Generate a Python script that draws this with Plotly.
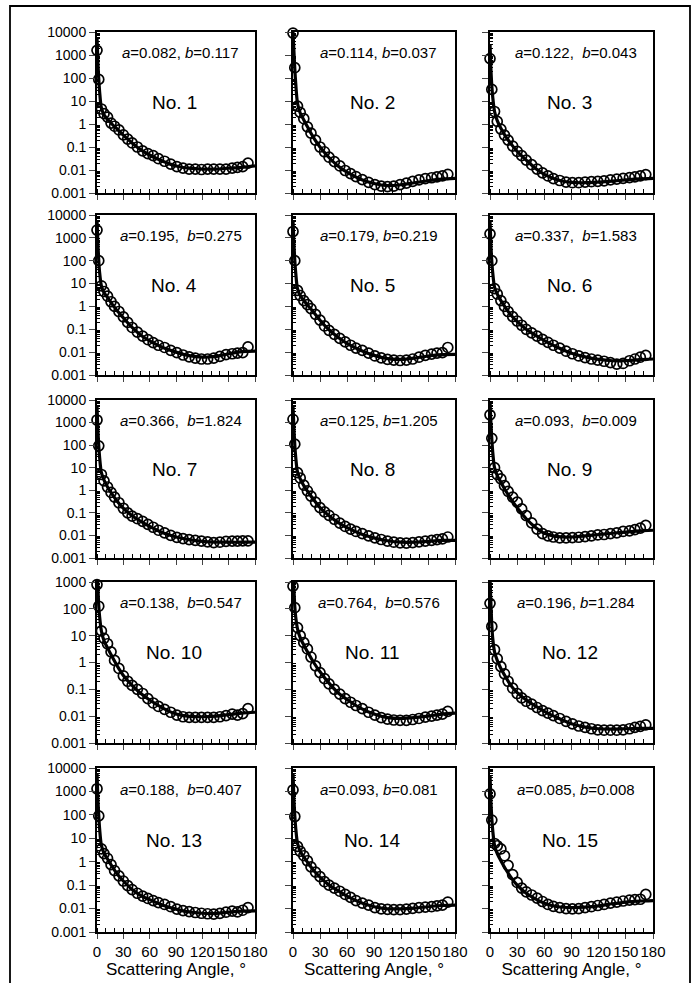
import plotly.graph_objects as go

# ---------------- data ----------------
DATA_ANGLES = [0, 2, 5, 8, 12, 16, 20, 25, 30, 35, 40, 46, 52, 58, 64, 70, 77, 84, 91, 98,
               105, 112, 119, 126, 133, 140, 147, 154, 160, 166, 172]
FIT_ANGLES = [0, 1, 2, 3, 5, 8, 12, 17, 23, 30, 40, 50, 60, 75, 90, 105, 120, 135, 150, 165, 180]

PANEL_NAMES = ["No. 1", "No. 2", "No. 3", "No. 4", "No. 5", "No. 6", "No. 7", "No. 8",
               "No. 9", "No. 10", "No. 11", "No. 12", "No. 13", "No. 14", "No. 15"]
A_VALUES = ["0.082", "0.114", "0.122", "0.195", "0.179", "0.337", "0.366", "0.125",
            "0.093", "0.138", "0.764", "0.196", "0.188", "0.093", "0.085"]
B_VALUES = ["0.117", "0.037", "0.043", "0.275", "0.219", "1.583", "1.824", "1.205",
            "0.009", "0.547", "0.576", "1.284", "0.407", "0.081", "0.008"]
SEPARATORS = [", ", ", ", ",  ", ",  ", ", ", ",  ", ",  ", ", ",
              ",  ", ",  ", ",  ", ", ", ",  ", ", ", ", "]

obs1 = [1600, 87, 4.5, 2.8, 2.0, 1.1, 0.8, 0.55, 0.34, 0.22, 0.15, 0.1, 0.068, 0.052, 0.042, 0.031,
        0.024, 0.018, 0.014, 0.012, 0.011, 0.011, 0.0105, 0.011, 0.011, 0.011, 0.011, 0.012, 0.013, 0.014, 0.02]
fit1 = [6000, 500, 90, 25, 5, 2.5, 1.6, 1.0, 0.6, 0.33, 0.15, 0.075, 0.045, 0.024, 0.015, 0.012,
        0.011, 0.011, 0.012, 0.013, 0.015]

obs2 = [9000, 280, 6, 3.2, 1.7, 0.75, 0.4, 0.2, 0.1, 0.062, 0.036, 0.023, 0.015, 0.0095, 0.007, 0.0052,
        0.0038, 0.0029, 0.0023, 0.002, 0.0019, 0.002, 0.0023, 0.0027, 0.0032, 0.0037, 0.0042, 0.0046, 0.005, 0.0055, 0.0065]
fit2 = [10000, 1500, 250, 60, 8, 3, 1.5, 0.65, 0.25, 0.1, 0.035, 0.015, 0.008, 0.004, 0.0026, 0.0021,
        0.0023, 0.0028, 0.0034, 0.004, 0.0043]

obs3 = [700, 32, 3.5, 1.3, 0.6, 0.33, 0.2, 0.11, 0.065, 0.042, 0.027, 0.017, 0.011, 0.0075, 0.0055, 0.0042,
        0.0035, 0.003, 0.0028, 0.0028, 0.003, 0.0031, 0.0032, 0.0034, 0.0037, 0.004, 0.0043, 0.0047, 0.005, 0.0055, 0.0063]
fit3 = [3000, 250, 45, 15, 3.5, 1.4, 0.65, 0.3, 0.14, 0.065, 0.027, 0.012, 0.0065, 0.0037, 0.0029, 0.0028,
        0.003, 0.0033, 0.0037, 0.0041, 0.0043]

obs4 = [2200, 100, 8, 4.5, 2.8, 1.6, 1.0, 0.6, 0.35, 0.2, 0.12, 0.075, 0.05, 0.035, 0.026, 0.02,
        0.016, 0.012, 0.0095, 0.0075, 0.0062, 0.0055, 0.005, 0.005, 0.0055, 0.0065, 0.0078, 0.0085, 0.009, 0.0095, 0.017]
fit4 = [6000, 600, 100, 30, 8, 4, 2.5, 1.3, 0.65, 0.32, 0.12, 0.055, 0.031, 0.016, 0.01, 0.007,
        0.006, 0.0065, 0.0085, 0.0105, 0.011]

obs5 = [1900, 100, 5, 3, 1.8, 1.2, 0.8, 0.45, 0.25, 0.14, 0.09, 0.06, 0.04, 0.028, 0.02, 0.015,
        0.012, 0.009, 0.0068, 0.0056, 0.0048, 0.0045, 0.0043, 0.0045, 0.005, 0.006, 0.0072, 0.0082, 0.009, 0.0095, 0.016]
fit5 = [6000, 600, 100, 30, 6, 3, 1.8, 1.05, 0.55, 0.25, 0.095, 0.045, 0.024, 0.012, 0.0072, 0.0052,
        0.0048, 0.0055, 0.0068, 0.0078, 0.008]

obs6 = [1500, 100, 6, 3.5, 1.8, 1.0, 0.6, 0.36, 0.23, 0.15, 0.1, 0.07, 0.05, 0.036, 0.027, 0.02,
        0.015, 0.011, 0.0085, 0.0068, 0.0058, 0.005, 0.0045, 0.004, 0.0035, 0.003, 0.0032, 0.0042, 0.005, 0.006, 0.0072]
fit6 = [5000, 500, 90, 30, 7, 3.5, 1.8, 0.9, 0.42, 0.22, 0.1, 0.055, 0.032, 0.016, 0.009, 0.0062,
        0.0048, 0.0042, 0.0042, 0.0047, 0.005]

obs7 = [1300, 93, 5, 2.6, 1.4, 0.8, 0.5, 0.28, 0.16, 0.1, 0.072, 0.055, 0.042, 0.031, 0.023, 0.017,
        0.013, 0.01, 0.0082, 0.0072, 0.0065, 0.006, 0.0056, 0.0052, 0.0048, 0.005, 0.0055, 0.0056, 0.0056, 0.0057, 0.0057]
fit7 = [5000, 500, 90, 28, 6, 2.8, 1.4, 0.7, 0.33, 0.16, 0.075, 0.042, 0.025, 0.013, 0.0085, 0.0065,
        0.0055, 0.0051, 0.005, 0.005, 0.005]

obs8 = [1400, 110, 6, 3.5, 1.7, 0.95, 0.55, 0.3, 0.17, 0.11, 0.078, 0.052, 0.035, 0.025, 0.019, 0.015,
        0.012, 0.0095, 0.0078, 0.0066, 0.0056, 0.005, 0.0047, 0.0046, 0.0048, 0.0052, 0.0056, 0.006, 0.0065, 0.007, 0.0085]
fit8 = [5000, 600, 100, 30, 6.5, 3.2, 1.6, 0.82, 0.38, 0.17, 0.075, 0.038, 0.022, 0.012, 0.0078, 0.0058,
        0.005, 0.005, 0.0055, 0.006, 0.006]

obs9 = [2200, 200, 10, 5, 3.2, 1.6, 0.9, 0.5, 0.3, 0.15, 0.075, 0.036, 0.019, 0.012, 0.0095, 0.0085,
        0.0078, 0.0078, 0.008, 0.0083, 0.0088, 0.0095, 0.0105, 0.011, 0.012, 0.013, 0.015, 0.016, 0.018, 0.021, 0.028]
fit9 = [8000, 1000, 180, 50, 10, 4.5, 2.3, 1.0, 0.42, 0.17, 0.055, 0.023, 0.0125, 0.0088, 0.0085, 0.0095,
        0.011, 0.0125, 0.014, 0.016, 0.017]

obs10 = [800, 125, 15, 8, 5, 2.5, 1.2, 0.6, 0.32, 0.2, 0.14, 0.1, 0.07, 0.045, 0.031, 0.023,
         0.018, 0.014, 0.011, 0.0095, 0.009, 0.009, 0.009, 0.009, 0.009, 0.0095, 0.0105, 0.012, 0.011, 0.0125, 0.019]
fit10 = [5000, 700, 130, 50, 15, 6.5, 3.5, 1.7, 0.75, 0.33, 0.14, 0.07, 0.04, 0.02, 0.012, 0.0098,
         0.0095, 0.01, 0.0115, 0.013, 0.014]

obs11 = [700, 110, 20, 10, 5.5, 3.2, 1.6, 0.75, 0.42, 0.25, 0.16, 0.1, 0.066, 0.045, 0.033, 0.025,
         0.019, 0.014, 0.011, 0.0088, 0.0078, 0.0072, 0.007, 0.007, 0.0075, 0.0082, 0.0092, 0.01, 0.011, 0.012, 0.015]
fit11 = [3000, 600, 120, 50, 18, 8.5, 4.5, 2.2, 1.0, 0.45, 0.17, 0.075, 0.042, 0.02, 0.012, 0.0088,
         0.0082, 0.0088, 0.01, 0.012, 0.013]

obs12 = [160, 22, 3, 1.4, 0.7, 0.38, 0.2, 0.11, 0.07, 0.048, 0.036, 0.028, 0.021, 0.016, 0.013, 0.0105,
         0.0082, 0.0064, 0.0052, 0.0043, 0.0038, 0.0034, 0.0031, 0.003, 0.003, 0.003, 0.0031, 0.0034, 0.0038, 0.0042, 0.0047]
fit12 = [1500, 150, 25, 8, 2.5, 1.2, 0.6, 0.3, 0.14, 0.075, 0.04, 0.024, 0.015, 0.0085, 0.0052, 0.0039,
         0.0034, 0.0033, 0.0034, 0.0035, 0.0035]

obs13 = [1300, 90, 3.5, 2.2, 1.4, 0.75, 0.42, 0.25, 0.15, 0.095, 0.065, 0.045, 0.034, 0.027, 0.022, 0.018,
         0.015, 0.012, 0.0095, 0.0082, 0.0074, 0.0068, 0.0063, 0.006, 0.0058, 0.0062, 0.007, 0.0078, 0.0072, 0.0085, 0.011]
fit13 = [6000, 500, 90, 25, 5, 2.3, 1.3, 0.65, 0.3, 0.15, 0.065, 0.036, 0.024, 0.014, 0.0095, 0.0072,
         0.0063, 0.0062, 0.007, 0.0078, 0.008]

obs14 = [1150, 85, 4.5, 2.8, 1.8, 1.1, 0.6, 0.36, 0.23, 0.14, 0.1, 0.075, 0.055, 0.04, 0.03, 0.022,
         0.017, 0.014, 0.011, 0.0098, 0.0093, 0.009, 0.009, 0.0095, 0.0102, 0.011, 0.0115, 0.012, 0.013, 0.014, 0.019]
fit14 = [6000, 500, 90, 28, 6, 2.8, 1.6, 0.85, 0.42, 0.22, 0.1, 0.058, 0.034, 0.018, 0.012, 0.0098,
         0.0098, 0.0105, 0.012, 0.0135, 0.014]

obs15 = [780, 60, 6, 4.8, 3.5, 1.8, 0.7, 0.28, 0.13, 0.075, 0.052, 0.038, 0.028, 0.02, 0.015, 0.0125,
         0.011, 0.01, 0.0098, 0.01, 0.011, 0.012, 0.0135, 0.015, 0.017, 0.019, 0.021, 0.023, 0.024, 0.025, 0.04]
fit15 = [5000, 400, 70, 22, 5, 2.2, 1.1, 0.5, 0.22, 0.1, 0.045, 0.026, 0.017, 0.012, 0.011, 0.0115,
         0.013, 0.016, 0.019, 0.021, 0.022]

OBS = [obs1, obs2, obs3, obs4, obs5, obs6, obs7, obs8, obs9, obs10, obs11, obs12, obs13, obs14, obs15]
FITS = [fit1, fit2, fit3, fit4, fit5, fit6, fit7, fit8, fit9, fit10, fit11, fit12, fit13, fit14, fit15]

X_TICKS = [0, 30, 60, 90, 120, 150, 180]
Y_TICKS = [0.001, 0.01, 0.1, 1, 10, 100, 1000, 10000]
Y_TICK_TEXT = ["0.001", "0.01", "0.1", "1", "10", "100", "1000", "10000"]
X_TITLE = "Scattering Angle, °"

# ---------------- layout geometry (pixels) ----------------
W, H = 693, 983
COL_X = [(97, 255), (293, 455), (490, 653)]
ROW_Y = [(32, 193), (215, 375), (400, 558), (582, 743), (768, 932)]
ROW_RANGES = [(-3, 4), (-3, 4), (-3, 4), (-3, 3), (-3, 4)]

FONT = "Liberation Sans, Arial, Helvetica, sans-serif"

minor_vals = [m * 10 ** e for e in range(-3, 4) for m in range(2, 10)]

fig = go.Figure()
layout = {}
annotations = []

for i in range(15):
    r, c = divmod(i, 3)
    k = "" if i == 0 else str(i + 1)
    xa, ya = "x" + k, "y" + k
    x0, x1 = COL_X[c]
    yt, yb = ROW_Y[r]

    fig.add_trace(go.Scatter(
        x=FIT_ANGLES, y=FITS[i], mode="lines", xaxis=xa, yaxis=ya,
        line=dict(color="black", width=3.2, shape="spline", smoothing=0.8),
        showlegend=False, hoverinfo="skip"))
    fig.add_trace(go.Scatter(
        x=DATA_ANGLES, y=OBS[i], mode="markers", xaxis=xa, yaxis=ya,
        marker=dict(symbol="circle-open", size=10, color="black", line=dict(width=1.7, color="black")),
        cliponaxis=False, showlegend=False))

    bottom = (r == 4)
    layout["xaxis" + k] = dict(
        domain=[x0 / W, x1 / W], anchor=ya, range=[0, 180], automargin=False,
        tickmode="array", tickvals=X_TICKS, ticks="outside", ticklen=5, tickwidth=1.3,
        tickangle=0,
        minor=dict(ticks="inside", ticklen=4, dtick=10, tick0=0, tickwidth=1.1, tickcolor="black"),
        showticklabels=bottom, tickfont=dict(family=FONT, size=15, color="black"),
        showline=True, linecolor="black", linewidth=1.5, mirror=True,
        showgrid=False, zeroline=False,
        title=dict(text=X_TITLE, font=dict(family=FONT, size=17, color="black"), standoff=4) if bottom else None,
    )
    lo, hi = ROW_RANGES[r]
    tv = [v for v in Y_TICKS if 10 ** lo <= v <= 10 ** hi]
    tt = [Y_TICK_TEXT[j] for j, v in enumerate(Y_TICKS) if 10 ** lo <= v <= 10 ** hi]
    layout["yaxis" + k] = dict(
        domain=[1 - yb / H, 1 - yt / H], anchor=xa, type="log", range=[lo, hi], automargin=False,
        tickmode="array", tickvals=tv, ticktext=tt, ticks="outside", ticklen=6, tickwidth=1.3,
        minor=dict(ticks="inside", ticklen=3, tickmode="array",
                   tickvals=[v for v in minor_vals if 10 ** lo < v < 10 ** hi],
                   tickwidth=1, tickcolor="black"),
        showticklabels=(c == 0), tickfont=dict(family=FONT, size=14, color="black"),
        showline=True, linecolor="black", linewidth=2, mirror=True,
        showgrid=False, zeroline=False,
    )
    annotations.append(dict(
        xref=xa + " domain", yref=ya + " domain", x=0.53, y=0.87,
        text="<i>a</i>=" + A_VALUES[i] + SEPARATORS[i] + "<i>b</i>=" + B_VALUES[i],
        showarrow=False, font=dict(family=FONT, size=15, color="black"), xanchor="center", yanchor="middle"))
    annotations.append(dict(
        xref=xa + " domain", yref=ya + " domain", x=0.49, y=0.56,
        text=PANEL_NAMES[i], showarrow=False,
        font=dict(family=FONT, size=19, color="black"), xanchor="center", yanchor="middle"))

layout["annotations"] = annotations
layout["shapes"] = [dict(type="rect", xref="paper", yref="paper",
                         x0=10 / W, x1=690 / W, y0=-0.05, y1=1 - 6 / H,
                         line=dict(color="black", width=1.8), fillcolor="rgba(0,0,0,0)")]
fig.update_layout(**layout)
fig.update_layout(template="none", width=W, height=H, margin=dict(l=0, r=0, t=0, b=0, pad=0),
                  paper_bgcolor="white", plot_bgcolor="white",
                  font=dict(family=FONT, color="black"))

fig.write_html("out.html", config={"displayModeBar": False},
               post_script="document.body.style.margin='0';document.body.style.overflow='hidden';")
